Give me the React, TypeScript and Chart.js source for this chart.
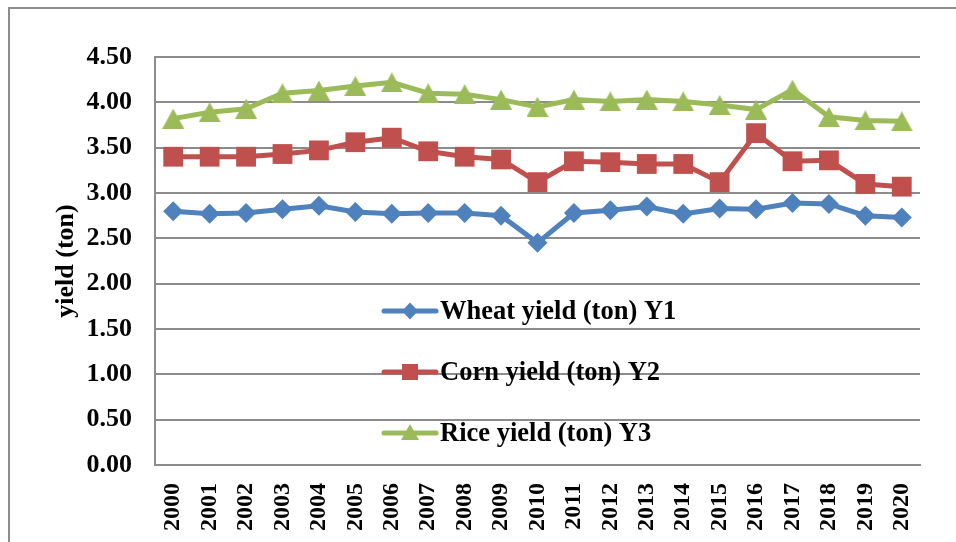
import React, { useEffect, useRef } from "react";
import { Chart, registerables } from "chart.js";

Chart.register(...registerables);

const years = ["2000","2001","2002","2003","2004","2005","2006","2007","2008","2009","2010","2011","2012","2013","2014","2015","2016","2017","2018","2019","2020"];
const wheat = [2.80, 2.77, 2.78, 2.82, 2.86, 2.79, 2.77, 2.78, 2.78, 2.75, 2.45, 2.78, 2.81, 2.85, 2.77, 2.83, 2.82, 2.89, 2.88, 2.75, 2.73];
const corn = [3.40, 3.40, 3.40, 3.43, 3.47, 3.56, 3.61, 3.46, 3.40, 3.37, 3.12, 3.35, 3.34, 3.32, 3.32, 3.12, 3.66, 3.35, 3.36, 3.10, 3.07];
const rice = [3.82, 3.89, 3.93, 4.10, 4.13, 4.18, 4.22, 4.10, 4.09, 4.03, 3.95, 4.03, 4.01, 4.03, 4.01, 3.97, 3.92, 4.14, 3.84, 3.80, 3.79];
const seriesLabels = ["Wheat yield (ton) Y1", "Corn yield (ton) Y2", "Rice yield (ton) Y3"];
const yTitle = "yield (ton)";

const BLUE = "#4F81BD";
const RED = "#C0504D";
const GREEN = "#9BBB59";
const GRID = "#8c8c8c";
const FONT = "'Liberation Serif', 'Times New Roman', serif";

function makeTriangle(w: number, h: number, color: string) {
  const c = document.createElement("canvas");
  c.width = w;
  c.height = h;
  const g = c.getContext("2d")!;
  g.fillStyle = color;
  g.beginPath();
  g.moveTo(w / 2, 0);
  g.lineTo(w, h);
  g.lineTo(0, h);
  g.closePath();
  g.fill();
  return c;
}

const framePlugin = {
  id: "frame",
  beforeDraw(chart: any) {
    const ctx = chart.ctx;
    ctx.save();
    ctx.fillStyle = "#ffffff";
    ctx.fillRect(0, 0, chart.width, chart.height);
    ctx.strokeStyle = GRID;
    ctx.lineWidth = 2;
    ctx.beginPath();
    ctx.moveTo(9, chart.height + 5);
    ctx.lineTo(9, 8);
    ctx.lineTo(chart.width + 5, 8);
    ctx.stroke();
    ctx.restore();
  },
};

const legendPlugin = {
  id: "customLegend",
  afterDraw(chart: any) {
    const ctx = chart.ctx;
    const rows = [311, 372, 433];
    const x0 = 382;
    const x1 = 438;
    const mx = (x0 + x1) / 2;
    chart.data.datasets.forEach((ds: any, i: number) => {
      const y = rows[i];
      ctx.save();
      ctx.strokeStyle = ds.borderColor;
      ctx.lineWidth = 5;
      ctx.lineCap = "round";
      ctx.beginPath();
      ctx.moveTo(x0 + 2, y);
      ctx.lineTo(x1 - 2, y);
      ctx.stroke();
      ctx.fillStyle = ds.borderColor;
      if (i === 0) {
        ctx.beginPath();
        ctx.moveTo(mx, y - 8.5);
        ctx.lineTo(mx + 8, y);
        ctx.lineTo(mx, y + 8.5);
        ctx.lineTo(mx - 8, y);
        ctx.closePath();
        ctx.fill();
      } else if (i === 1) {
        ctx.fillRect(mx - 8, y - 8, 16, 16);
      } else {
        ctx.beginPath();
        ctx.moveTo(mx, y - 9);
        ctx.lineTo(mx + 9, y + 7);
        ctx.lineTo(mx - 9, y + 7);
        ctx.closePath();
        ctx.fill();
      }
      ctx.fillStyle = "#000";
      ctx.font = `bold 26.5px ${FONT}`;
      ctx.textAlign = "left";
      ctx.textBaseline = "middle";
      ctx.fillText(ds.label, 440, y + 1);
      ctx.restore();
    });
  },
};

export default function App() {
  const ref = useRef<HTMLCanvasElement | null>(null);
  useEffect(() => {
    if (!ref.current) return;
    const tri = makeTriangle(22, 20, GREEN);
    const chart = new Chart(ref.current, {
      type: "line",
      data: {
        labels: years,
        datasets: [
          {
            label: seriesLabels[0],
            data: wheat,
            borderColor: BLUE,
            backgroundColor: BLUE,
            borderWidth: 5,
            pointStyle: "rectRot",
            pointRadius: 10,
            pointBorderWidth: 0,
            pointBackgroundColor: BLUE,
            tension: 0,
          },
          {
            label: seriesLabels[1],
            data: corn,
            borderColor: RED,
            backgroundColor: RED,
            borderWidth: 5,
            pointStyle: "rect",
            pointRadius: 14,
            pointBorderWidth: 0,
            pointBackgroundColor: RED,
            tension: 0,
          },
          {
            label: seriesLabels[2],
            data: rice,
            borderColor: GREEN,
            backgroundColor: GREEN,
            borderWidth: 5,
            pointStyle: tri as any,
            pointRadius: 11,
            pointBorderWidth: 0,
            pointBackgroundColor: GREEN,
            tension: 0,
          },
        ],
      },
      options: {
        animation: false,
        responsive: false,
        maintainAspectRatio: false,
        layout: { padding: { top: 57, right: 36, left: 0, bottom: 0 } },
        plugins: {
          legend: { display: false },
          tooltip: { enabled: false },
        },
        scales: {
          x: {
            offset: true,
            grid: { display: false, drawTicks: false },
            border: { display: true, color: GRID, width: 2 },
            ticks: {
              autoSkip: false,
              minRotation: 90,
              maxRotation: 90,
              padding: 18,
              color: "#000",
              font: { family: FONT, size: 24, weight: "bold" },
            },
            afterFit: (s: any) => {
              s.height = 77;
            },
          },
          y: {
            min: 0,
            max: 4.5,
            grid: { color: GRID, lineWidth: 2, drawTicks: false },
            border: { display: true, color: GRID, width: 2 },
            ticks: {
              stepSize: 0.5,
              padding: 23,
              color: "#000",
              font: { family: FONT, size: 26, weight: "bold" },
              callback: (v: any) => Number(v).toFixed(2),
            },
            title: {
              display: true,
              text: yTitle,
              color: "#000",
              font: { family: FONT, size: 26, weight: "bold" },
              padding: { top: 51, bottom: 0 },
            },
            afterFit: (s: any) => {
              s.width = 155;
            },
          },
        },
      },
      plugins: [framePlugin, legendPlugin],
    });
    return () => chart.destroy();
  }, []);
  return (
    <div style={{ position: "fixed", left: 0, top: 0, width: 956, height: 542, overflow: "hidden", background: "#fff" }}>
      <canvas ref={ref} width={956} height={542} style={{ display: "block", width: 956, height: 542 }} />
    </div>
  );
}
